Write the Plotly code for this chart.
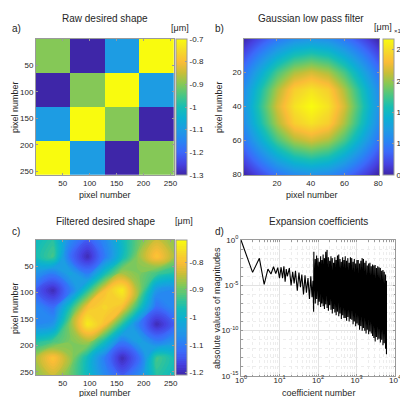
import plotly.graph_objects as go

W, H = 408, 397
TXT = "#262626"
AX = "#9a9a9a"
FONT = "Liberation Sans"

# MATLAB parula-like colour scale
parula = [
    [0.00, "rgb(62,38,168)"],
    [0.08, "rgb(70,65,225)"],
    [0.17, "rgb(60,105,250)"],
    [0.25, "rgb(40,133,243)"],
    [0.33, "rgb(30,155,228)"],
    [0.42, "rgb(12,176,210)"],
    [0.50, "rgb(22,190,180)"],
    [0.58, "rgb(70,198,135)"],
    [0.67, "rgb(135,200,85)"],
    [0.75, "rgb(200,190,55)"],
    [0.83, "rgb(250,188,55)"],
    [0.92, "rgb(245,220,40)"],
    [1.00, "rgb(249,251,14)"],
]

# a) raw desired shape (4x4 blocks, um)
raw_centers = [32, 96, 160, 224]
raw_shape = [
    [-0.9, -1.3, -1.1, -0.7],
    [-1.3, -0.9, -0.7, -1.1],
    [-1.1, -0.7, -0.9, -1.3],
    [-0.7, -1.1, -1.3, -0.9],
]

# b) gaussian low pass filter, sampled every 10 px (x1e-4)
gauss_pos = [0, 10, 20, 30, 40, 50, 60, 70, 80]
gauss_z = [
    [0.50, 0.72, 0.94, 1.10, 1.16, 1.10, 0.94, 0.72, 0.50],
    [0.72, 1.04, 1.35, 1.58, 1.67, 1.58, 1.35, 1.04, 0.72],
    [0.94, 1.35, 1.76, 2.05, 2.17, 2.05, 1.76, 1.35, 0.94],
    [1.10, 1.58, 2.05, 2.41, 2.53, 2.41, 2.05, 1.58, 1.10],
    [1.16, 1.67, 2.17, 2.53, 2.67, 2.53, 2.17, 1.67, 1.16],
    [1.10, 1.58, 2.05, 2.41, 2.53, 2.41, 2.05, 1.58, 1.10],
    [0.94, 1.35, 1.76, 2.05, 2.17, 2.05, 1.76, 1.35, 0.94],
    [0.72, 1.04, 1.35, 1.58, 1.67, 1.58, 1.35, 1.04, 0.72],
    [0.50, 0.72, 0.94, 1.10, 1.16, 1.10, 0.94, 0.72, 0.50],
]

# c) filtered desired shape, sampled every 32 px (um)
filt_pos = [0, 32, 64, 96, 128, 160, 192, 224, 256]
filt_z = [
    [-0.98, -0.95, -1.08, -1.14, -1.08, -0.98, -0.90, -0.84, -0.88],
    [-0.97, -0.93, -1.12, -1.20, -1.10, -0.98, -0.87, -0.79, -0.86],
    [-1.06, -1.10, -1.03, -1.10, -0.97, -0.86, -0.89, -0.93, -0.96],
    [-1.14, -1.20, -1.10, -0.95, -0.80, -0.74, -0.88, -1.06, -1.08],
    [-1.08, -1.12, -0.96, -0.80, -0.77, -0.80, -0.96, -1.12, -1.08],
    [-1.08, -1.06, -0.88, -0.74, -0.80, -0.95, -1.10, -1.20, -1.14],
    [-0.96, -0.93, -0.89, -0.86, -0.97, -1.10, -1.03, -1.10, -1.06],
    [-0.86, -0.79, -0.87, -0.98, -1.10, -1.20, -1.12, -0.93, -0.97],
    [-0.88, -0.84, -0.90, -0.98, -1.08, -1.14, -1.08, -0.95, -0.98],
]

# d) expansion coefficients, log10 of |magnitude|
head_n = [1, 2, 3, 4, 5, 6, 7, 8, 9, 10]
head_log = [0.0, -3.57, -2.02, -4.89, -3.2, -3.75, -2.95, -3.7, -3.05, -4.2]
mid_n = [11, 12, 13, 14, 15, 16, 18, 20, 22, 24, 26, 29, 32, 35, 38, 42,
         46, 50, 55, 60, 65, 70, 74, 77]
mid_log = [-3.0, -4.2, -2.9, -4.6, -3.2, -4.0, -3.1, -5.0, -3.5, -4.8, -3.4, -5.6,
           -3.6, -5.2, -3.8, -6.0, -3.9, -5.8, -4.2, -6.5, -4.0, -6.3, -4.5, -7.9]
band_n = [78, 85, 92, 100, 108, 117, 126, 136, 147, 159, 172, 186, 201, 217, 235,
          254, 274, 296, 320, 346, 374, 404, 437, 472, 510, 551, 596, 644, 696,
          752, 813, 879, 950, 1027, 1110, 1200, 1297, 1402, 1515, 1638, 1770,
          1913, 2068, 2235, 2416, 2611, 2822, 3050, 3297, 3564, 3852, 4164, 4500,
          4864, 5258, 5680, 6000]
band_hi = [-1.3, -2.1, -1.7, -2.0, -2.4, -1.8, -2.2, -1.6, -2.0, -1.3, -1.1, -1.9,
           -2.3, -1.8, -2.0, -2.5, -1.9, -2.2, -1.7, -1.6, -2.1, -2.4, -1.9, -2.2,
           -1.8, -2.3, -2.0, -2.5, -1.9, -2.0, -2.4, -2.1, -2.6, -2.2, -2.2, -2.6,
           -2.3, -2.0, -2.1, -2.5, -2.3, -2.8, -2.6, -2.5, -2.9, -2.7, -2.8, -2.75,
           -3.1, -2.9, -3.0, -3.1, -3.4, -3.3, -3.5, -3.8, -4.5]
band_lo = [-6.6, -7.0, -6.5, -7.2, -6.8, -7.4, -7.0, -7.3, -7.6, -7.1, -7.5, -7.8,
           -7.2, -7.7, -8.1, -7.6, -8.0, -8.3, -7.9, -8.4, -8.1, -8.7, -8.3, -8.6,
           -8.6, -8.9, -8.5, -9.0, -8.7, -8.8, -9.3, -9.0, -9.5, -9.2, -9.4, -9.9,
           -9.5, -10.0, -9.7, -10.0, -10.3, -9.9, -10.4, -10.1, -10.3, -10.6, -10.8,
           -11.2, -10.7, -11.0, -10.9, -11.3, -11.0, -11.6, -11.4, -12.0, -12.6]

coef_n = head_n + mid_n
coef_log = head_log + mid_log
for n, hi, lo in zip(band_n, band_hi, band_lo):
    coef_n += [n, n]
    coef_log += [hi, lo]
coef_val = [10 ** v for v in coef_log]

TICKFONT = dict(size=8, color=TXT, family=FONT)


def cbar(x0, y0, y1, tickvals, ticktext=None):
    return dict(x=x0 / W, xanchor="left", xpad=0, y=1 - (y0 + y1) / 2 / H,
                yanchor="middle", ypad=0, len=(y1 - y0) / H, lenmode="fraction",
                thickness=11, thicknessmode="pixels", outlinewidth=1, outlinecolor=AX,
                ticks="inside", ticklen=2, tickcolor=AX, tickvals=tickvals,
                ticktext=ticktext, tickfont=TICKFONT)


fig = go.Figure()
fig.add_trace(go.Heatmap(x=raw_centers, y=raw_centers, z=raw_shape, colorscale=parula,
                         zmin=-1.3, zmax=-0.7, xaxis="x", yaxis="y",
                         colorbar=cbar(168, 31, 167, [-1.3, -1.2, -1.1, -1.0, -0.9, -0.8, -0.7],
                                       ["-1.3", "-1.2", "-1.1", "-1", "-0.9", "-0.8", "-0.7"])))
fig.add_trace(go.Heatmap(x=gauss_pos, y=gauss_pos, z=gauss_z, colorscale=parula,
                         zmin=0.5, zmax=2.67, zsmooth="best", xaxis="x2", yaxis="y2",
                         colorbar=cbar(375, 31, 167, [0.5, 1, 1.5, 2, 2.5],
                                       ["0.5", "1", "1.5", "2", "2.5"])))
fig.add_trace(go.Contour(x=filt_pos, y=filt_pos, z=filt_z, colorscale=parula,
                         zmin=-1.21, zmax=-0.72, xaxis="x3", yaxis="y3",
                         contours=dict(start=-1.215, end=-0.72, size=0.008,
                                       coloring="fill", showlines=False),
                         line=dict(width=0, smoothing=1.3),
                         colorbar=cbar(168, 232, 367, [-1.2, -1.1, -1.0, -0.9, -0.8],
                                       ["-1.2", "-1.1", "-1", "-0.9", "-0.8"])))
fig.add_trace(go.Scatter(x=coef_n, y=coef_val, mode="lines",
                         line=dict(color="black", width=1.1), xaxis="x4", yaxis="y4"))


def box_axis(domain, rng, tickvals, anchor):
    return dict(domain=domain, range=rng, tickvals=tickvals, anchor=anchor,
                showline=True, linecolor=AX, linewidth=1, mirror="ticks",
                ticks="inside", ticklen=2, tickcolor=AX, showgrid=False, zeroline=False,
                tickfont=TICKFONT, automargin=False)


top = [1 - 167 / H, 1 - 31 / H]
bot = [1 - 367 / H, 1 - 232 / H]
fig.update_layout(
    width=W, height=H, margin=dict(l=0, r=0, t=0, b=0),
    paper_bgcolor="white", plot_bgcolor="white", showlegend=False,
    font=dict(family=FONT, color=TXT),
    xaxis=box_axis([28 / W, 166 / W], [0.5, 256.5], [50, 100, 150, 200, 250], "y"),
    yaxis=box_axis(top, [256.5, 0.5], [50, 100, 150, 200, 250], "x"),
    xaxis2=box_axis([236 / W, 371 / W], [0.5, 80.5], [20, 40, 60, 80], "y2"),
    yaxis2=box_axis(top, [80.5, 0.5], [20, 40, 60, 80], "x2"),
    xaxis3=box_axis([28 / W, 166 / W], [0.5, 256], [50, 100, 150, 200, 250], "y3"),
    yaxis3=box_axis(bot, [256, 0.5], [50, 100, 150, 200, 250], "x3"),
)
grid_minor = dict(ticks="inside", ticklen=1.5, tickcolor=AX, showgrid=True,
                  gridcolor="#ededed", griddash="dot", gridwidth=0.6)
fig.update_layout(
    xaxis4=dict(box_axis([233 / W, 387 / W], [0, 4], [1, 10, 100, 1000, 10000], "y4"),
                type="log", showgrid=True, gridcolor="#e2e2e2", gridwidth=0.6,
                ticklabelstandoff=-4,
                ticktext=["10<sup>0</sup>", "10<sup>1</sup>", "10<sup>2</sup>",
                          "10<sup>3</sup>", "10<sup>4</sup>"],
                minor=dict(grid_minor, dtick="D1")),
    yaxis4=dict(box_axis([1 - 368 / H, 1 - 232 / H], [-15, 0], [1e-15, 1e-10, 1e-5, 1], "x4"),
                type="log", showgrid=True, gridcolor="#e2e2e2", gridwidth=0.6,
                ticktext=["10<sup>-15</sup>", "10<sup>-10</sup>", "10<sup>-5</sup>",
                          "10<sup>0</sup>"],
                minor=dict(grid_minor, dtick=1)),
)


def note(x, y, text, size=9, angle=0, xanchor="center"):
    fig.add_annotation(x=x / W, y=1 - y / H, xref="paper", yref="paper", text=text,
                       showarrow=False, textangle=angle, xanchor=xanchor, yanchor="middle",
                       font=dict(size=size, color=TXT, family=FONT))


# subplot titles
note(97, 11, "Raw desired shape", 10)
note(303, 11, "Gaussian low pass filter", 10)
note(97, 213, "Filtered desired shape", 10)
note(310, 213, "Expansion coefficients", 10)
# panel labels
note(2, 20, "a)", 10, xanchor="left")
note(205, 20, "b)", 10, xanchor="left")
note(2, 223, "c)", 10, xanchor="left")
note(205, 223, "d)", 10, xanchor="left")
# unit labels
note(172, 20, "[μm]")
note(375, 19, "[μm]")
note(384, 22, "×10<sup>-4</sup>", 6, xanchor="left")
note(176, 213, "[μm]")
# axis titles
note(97, 187, "pixel number")
note(304, 187, "pixel number")
note(97, 385, "pixel number")
note(310, 385, "coefficient number")
note(7, 99, "pixel number", angle=-90)
note(211, 99, "pixel number", angle=-90)
note(7, 300, "pixel number", angle=-90)
note(209, 300, "absolute values of magnitudes", angle=-90)

fig.write_html("out.html")
